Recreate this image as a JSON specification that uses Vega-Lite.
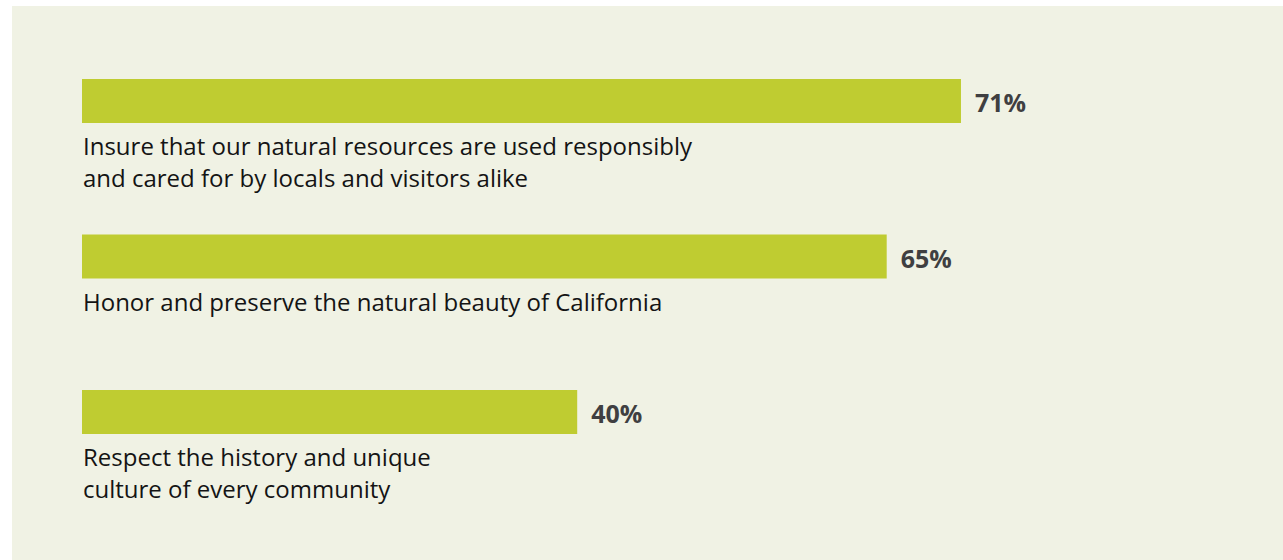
{
  "$schema": "https://vega.github.io/schema/vega-lite/v6.json",
  "width": 1271,
  "height": 554,
  "autosize": {"type": "none"},
  "padding": {"left": 12, "top": 6, "right": 0, "bottom": 0},
  "background": "#ffffff",
  "config": {"view": {"fill": "#f0f2e4", "stroke": null}},
  "data": {
    "values": [
      {"item": "A", "value": 71, "label": "Insure that our natural resources are used responsibly\nand cared for by locals and visitors alike"},
      {"item": "B", "value": 65, "label": "Honor and preserve the natural beauty of California"},
      {"item": "C", "value": 40, "label": "Respect the history and unique\nculture of every community"}
    ]
  },
  "encoding": {
    "y": {
      "field": "item",
      "type": "nominal",
      "sort": null,
      "axis": null,
      "scale": {"range": [17.25, 483.75], "paddingInner": 0.717, "paddingOuter": 0.3585}
    }
  },
  "layer": [
    {
      "mark": {"type": "bar", "color": "#bfcc31"},
      "encoding": {
        "x": {"field": "value", "type": "quantitative", "axis": null, "scale": {"domain": [0, 100], "range": [70, 1308], "nice": false, "zero": true}}
      }
    },
    {
      "mark": {"type": "text", "align": "left", "baseline": "alphabetic", "dx": 14, "dy": 11, "font": "Open Sans", "fontWeight": "bold", "fontSize": 25, "color": "#3f3f41", "text": {"expr": "datum.value + '%'"}},
      "encoding": {
        "x": {"field": "value", "type": "quantitative"}
      }
    },
    {
      "mark": {"type": "text", "align": "left", "baseline": "alphabetic", "dy": 54, "x": 71, "lineBreak": "\n", "lineHeight": 32, "font": "Open Sans", "fontSize": 24, "color": "#141414"},
      "encoding": {
        "text": {"field": "label", "type": "nominal"}
      }
    }
  ]
}
